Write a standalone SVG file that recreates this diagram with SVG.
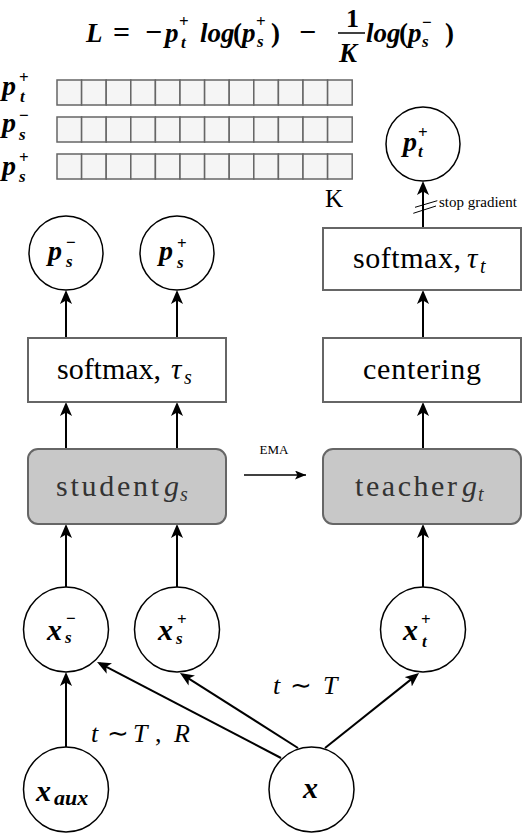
<svg xmlns="http://www.w3.org/2000/svg" width="524" height="834" viewBox="0 0 524 834">
<defs>
<style>
.box{fill:#fff;stroke:#666;stroke-width:2}
.net{fill:#c8c8c8;stroke:#666;stroke-width:2}
.circ{fill:#fff;stroke:#000;stroke-width:1.5}
.cell{fill:#f5f5f5;stroke:#666;stroke-width:1.5}
.conn{stroke:#000;stroke-width:2;fill:none;marker-end:url(#arr)}
.thin{stroke:#000;stroke-width:1;fill:none}
text{font-family:"Liberation Serif","Times New Roman",serif;fill:#000}
.rm{font-size:30px}
.dk{fill:#333}
.mb{font-style:italic;font-weight:bold}
.mi{font-style:italic}
.up{font-style:normal}
.s{font-size:17px}
</style>
<marker id="arr" markerUnits="userSpaceOnUse" markerWidth="14" markerHeight="12" viewBox="0 0 14 12" refX="11" refY="6" orient="auto"><path d="M14,6 L0,0 L3.5,6 L0,12 Z" fill="#000"/></marker>
<marker id="arrs" markerUnits="userSpaceOnUse" markerWidth="11" markerHeight="9" viewBox="0 0 11 9" refX="11" refY="4.5" orient="auto"><path d="M11,4.5 L0,0 L2.5,4.5 L0,9 Z" fill="#000"/></marker>
</defs>
<rect width="524" height="834" fill="#fff"/>

<g id="formula">
<text class="mb" font-size="27"><tspan x="86" y="42">L</tspan><tspan class="up" x="113" y="42" font-size="30">=</tspan><tspan class="up" x="145" y="42" font-size="30">−</tspan><tspan x="165" y="42">p</tspan><tspan class="up s" x="179" y="27">+</tspan><tspan class="s" x="181" y="48">t</tspan><tspan x="200" y="42">log</tspan><tspan class="up" x="233" y="42">(</tspan><tspan x="242" y="42">p</tspan><tspan class="up s" x="256" y="27">+</tspan><tspan class="s" x="257" y="47">s</tspan><tspan class="up" x="271" y="42">)</tspan><tspan class="up" x="299" y="42" font-size="30">−</tspan><tspan class="up" x="346" y="27" font-size="26">1</tspan><tspan x="339" y="62">K</tspan><tspan x="366" y="42">log</tspan><tspan class="up" x="399" y="42">(</tspan><tspan x="408" y="42">p</tspan><tspan class="up s" x="422" y="28">−</tspan><tspan class="s" x="422" y="47">s</tspan><tspan class="up" x="445" y="42">)</tspan></text>
<line x1="338" y1="33" x2="365" y2="33" stroke="#000" stroke-width="1.5"/>
</g>

<g id="bars">
<g id="row-pt">
<rect class="cell" x="57" y="80" width="24.6" height="25"/><rect class="cell" x="81.6" y="80" width="24.6" height="25"/><rect class="cell" x="106.2" y="80" width="24.6" height="25"/><rect class="cell" x="130.8" y="80" width="24.6" height="25"/><rect class="cell" x="155.4" y="80" width="24.6" height="25"/><rect class="cell" x="180" y="80" width="24.6" height="25"/><rect class="cell" x="204.6" y="80" width="24.6" height="25"/><rect class="cell" x="229.2" y="80" width="24.6" height="25"/><rect class="cell" x="253.8" y="80" width="24.6" height="25"/><rect class="cell" x="278.4" y="80" width="24.6" height="25"/><rect class="cell" x="303" y="80" width="24.6" height="25"/><rect class="cell" x="327.6" y="80" width="24.6" height="25"/>
<text class="mb" font-size="28"><tspan x="2" y="95">p</tspan><tspan class="up s" x="19" y="83">+</tspan><tspan class="s" x="20" y="102">t</tspan></text>
</g>
<g id="row-psm">
<rect class="cell" x="57" y="117" width="24.6" height="25"/><rect class="cell" x="81.6" y="117" width="24.6" height="25"/><rect class="cell" x="106.2" y="117" width="24.6" height="25"/><rect class="cell" x="130.8" y="117" width="24.6" height="25"/><rect class="cell" x="155.4" y="117" width="24.6" height="25"/><rect class="cell" x="180" y="117" width="24.6" height="25"/><rect class="cell" x="204.6" y="117" width="24.6" height="25"/><rect class="cell" x="229.2" y="117" width="24.6" height="25"/><rect class="cell" x="253.8" y="117" width="24.6" height="25"/><rect class="cell" x="278.4" y="117" width="24.6" height="25"/><rect class="cell" x="303" y="117" width="24.6" height="25"/><rect class="cell" x="327.6" y="117" width="24.6" height="25"/>
<text class="mb" font-size="28"><tspan x="2" y="132">p</tspan><tspan class="up s" x="19" y="121">−</tspan><tspan class="s" x="19" y="140">s</tspan></text>
</g>
<g id="row-psp">
<rect class="cell" x="57" y="154" width="24.6" height="25"/><rect class="cell" x="81.6" y="154" width="24.6" height="25"/><rect class="cell" x="106.2" y="154" width="24.6" height="25"/><rect class="cell" x="130.8" y="154" width="24.6" height="25"/><rect class="cell" x="155.4" y="154" width="24.6" height="25"/><rect class="cell" x="180" y="154" width="24.6" height="25"/><rect class="cell" x="204.6" y="154" width="24.6" height="25"/><rect class="cell" x="229.2" y="154" width="24.6" height="25"/><rect class="cell" x="253.8" y="154" width="24.6" height="25"/><rect class="cell" x="278.4" y="154" width="24.6" height="25"/><rect class="cell" x="303" y="154" width="24.6" height="25"/><rect class="cell" x="327.6" y="154" width="24.6" height="25"/>
<text class="mb" font-size="28"><tspan x="2" y="175">p</tspan><tspan class="up s" x="19" y="163">+</tspan><tspan class="s" x="19" y="182">s</tspan></text>
</g>
<text x="325" y="207" font-size="25">K</text>
</g>

<g id="connectors">
<line class="conn" x1="423" y1="228" x2="423" y2="184"/>
<line class="conn" x1="423" y1="338" x2="423" y2="293"/>
<line class="conn" x1="423" y1="449" x2="423" y2="405"/>
<line class="conn" x1="423" y1="587" x2="423" y2="527"/>
<line class="conn" x1="66" y1="338" x2="66" y2="293"/>
<line class="conn" x1="177" y1="338" x2="177" y2="293"/>
<line class="conn" x1="66" y1="449" x2="66" y2="405"/>
<line class="conn" x1="177" y1="449" x2="177" y2="405"/>
<line class="conn" x1="66" y1="587" x2="66" y2="527"/>
<line class="conn" x1="177" y1="587" x2="177" y2="527"/>
<line class="conn" x1="66" y1="747" x2="66" y2="675"/>
<line class="conn" x1="281" y1="758" x2="99.7" y2="663.4"/>
<line class="conn" x1="298" y1="748" x2="182.5" y2="674.6"/>
<line class="conn" x1="325" y1="748" x2="416.7" y2="674.9"/>
<line x1="244" y1="475" x2="306" y2="475" stroke="#000" stroke-width="1.5" marker-end="url(#arrs)"/>
<text x="274" y="454" text-anchor="middle" font-size="13">EMA</text>
<line class="thin" x1="415" y1="207.3" x2="437.3" y2="200.7"/>
<line class="thin" x1="413.3" y1="213.3" x2="436" y2="206"/>
<text x="439" y="207" font-size="15">stop gradient</text>
<text class="mi" font-size="26"><tspan x="91" y="742">t</tspan><tspan class="up" x="107" y="742">∼</tspan><tspan x="133" y="742">T</tspan><tspan class="up" x="155" y="742">,</tspan><tspan x="174" y="742">R</tspan></text>
<text class="mi" font-size="26"><tspan x="273" y="694">t</tspan><tspan class="up" x="290" y="694">∼</tspan><tspan x="323" y="694">T</tspan></text>
</g>

<g id="node-pt">
<circle class="circ" cx="423" cy="144" r="37"/>
<text class="mb" font-size="28"><tspan x="403" y="151">p</tspan><tspan class="up s" x="418" y="138">+</tspan><tspan class="s" x="418" y="157">t</tspan></text>
</g>
<g id="node-softmax-t">
<rect class="box" x="323" y="228" width="198" height="62"/>
<text class="rm" x="353" y="268" textLength="108" lengthAdjust="spacing">softmax,</text>
<text class="mi" font-size="29"><tspan x="467" y="268">τ</tspan><tspan x="480" y="273" font-size="20">t</tspan></text>
</g>
<g id="node-centering">
<rect class="box" x="323" y="338" width="198" height="64"/>
<text class="rm" x="363" y="379" textLength="118" lengthAdjust="spacing">centering</text>
</g>
<g id="node-teacher">
<rect class="net" x="323" y="449" width="198" height="75" rx="10"/>
<text class="rm dk" x="355" y="496" textLength="102" lengthAdjust="spacing">teacher</text>
<text class="mi dk" font-size="30"><tspan x="462" y="496">g</tspan><tspan x="478" y="501" font-size="20">t</tspan></text>
</g>

<g id="node-ps-minus">
<circle class="circ" cx="66" cy="253" r="37"/>
<text class="mb" font-size="28"><tspan x="48" y="260">p</tspan><tspan class="up s" x="66" y="248">−</tspan><tspan class="s" x="66" y="267">s</tspan></text>
</g>
<g id="node-ps-plus">
<circle class="circ" cx="177" cy="253" r="37"/>
<text class="mb" font-size="28"><tspan x="159" y="260">p</tspan><tspan class="up s" x="177" y="249">+</tspan><tspan class="s" x="177" y="268">s</tspan></text>
</g>
<g id="node-softmax-s">
<rect class="box" x="28" y="338" width="198" height="64"/>
<text class="rm" x="57" y="379" textLength="104" lengthAdjust="spacing">softmax,</text>
<text class="mi" font-size="29"><tspan x="171" y="379">τ</tspan><tspan x="184" y="384" font-size="20">s</tspan></text>
</g>
<g id="node-student">
<rect class="net" x="28" y="449" width="198" height="75" rx="10"/>
<text class="rm dk" x="56" y="496" textLength="103" lengthAdjust="spacing">student</text>
<text class="mi dk" font-size="30"><tspan x="164" y="496">g</tspan><tspan x="180" y="501" font-size="20">s</tspan></text>
</g>

<g id="node-xs-minus">
<circle class="circ" cx="66" cy="629.5" r="42.5"/>
<text class="mb" font-size="30"><tspan x="47" y="640">x</tspan><tspan class="up s" x="66" y="624">−</tspan><tspan class="s" x="65" y="643">s</tspan></text>
</g>
<g id="node-xs-plus">
<circle class="circ" cx="177" cy="629.5" r="42.5"/>
<text class="mb" font-size="30"><tspan x="158" y="640">x</tspan><tspan class="up s" x="177" y="625">+</tspan><tspan class="s" x="176" y="644">s</tspan></text>
</g>
<g id="node-xt-plus">
<circle class="circ" cx="423" cy="629.5" r="42.5"/>
<text class="mb" font-size="30"><tspan x="403" y="640">x</tspan><tspan class="up s" x="421" y="625">+</tspan><tspan class="s" x="422" y="647">t</tspan></text>
</g>
<g id="node-xaux">
<circle class="circ" cx="66" cy="789.5" r="42.5"/>
<text class="mb" font-size="30"><tspan x="36" y="801">x</tspan><tspan x="54" y="805" font-size="22">aux</tspan></text>
</g>
<g id="node-x">
<circle class="circ" cx="311.5" cy="789.5" r="42.5"/>
<text class="mb" x="303" y="798" font-size="30">x</text>
</g>
</svg>
